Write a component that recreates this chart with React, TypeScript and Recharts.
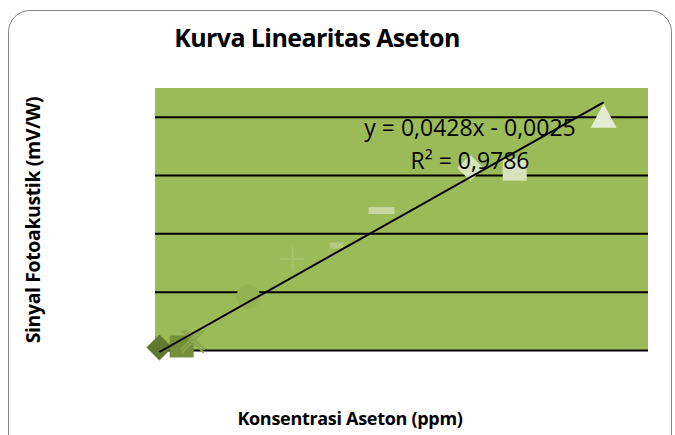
import { ScatterChart, Scatter, XAxis, YAxis, ReferenceLine, ReferenceArea } from "recharts";

// concentration (ppm) and signal (mV/W), one Excel series per point
const concentrations = [0, 0.5, 0.75, 2, 3, 4, 5, 7, 8, 10];
const signals = [0.005, 0.007, 0.015, 0.092, 0.157, 0.18, 0.24, 0.313, 0.31, 0.399];
const markers = ["diamond", "square", "x", "circle", "plus", "dashSmall", "dash", "diamond", "square", "triangle"];
const markerColors = ["#5f7a2e", "#748f3c", "#8aa64b", "#93b353", "#a6c36b", "#b3cc80", "#c6d89f", "#d6e3bc", "#d6e3bc", "#e3ebd2"];

const yTicks = [0, 0.1, 0.2, 0.3, 0.4];
const slope = 0.0428;
const intercept = -0.0025;
const trendX = [0, 10];

const trendData = trendX.map((x) => ({ x, y: slope * x + intercept }));

function markerShape(kind: string, color: string) {
  return (props: any) => {
    const { cx, cy } = props;
    if (cx == null || cy == null) return null;
    switch (kind) {
      case "diamond":
        return <polygon points={`${cx},${cy - 13} ${cx + 13},${cy} ${cx},${cy + 13} ${cx - 13},${cy}`} fill={color} />;
      case "square":
        return <rect x={cx - 12} y={cy - 11} width={24} height={22} fill={color} />;
      case "x":
        return (
          <g stroke={color} strokeWidth={2}>
            <line x1={cx - 11} y1={cy - 11} x2={cx + 11} y2={cy + 11} />
            <line x1={cx - 11} y1={cy + 11} x2={cx + 11} y2={cy - 11} />
            <line x1={cx - 8} y1={cy - 12} x2={cx + 12} y2={cy + 8} />
            <line x1={cx - 12} y1={cy + 8} x2={cx + 8} y2={cy - 12} />
          </g>
        );
      case "circle":
        return <circle cx={cx} cy={cy} r={12} fill={color} />;
      case "plus":
        return (
          <g stroke={color} strokeWidth={2}>
            <line x1={cx - 12} y1={cy} x2={cx + 12} y2={cy} />
            <line x1={cx} y1={cy - 12} x2={cx} y2={cy + 12} />
          </g>
        );
      case "dashSmall":
        return <rect x={cx - 7} y={cy - 3} width={13} height={6} fill={color} />;
      case "dash":
        return <rect x={cx - 13} y={cy - 3.5} width={26} height={7} fill={color} />;
      case "triangle":
        return <polygon points={`${cx},${cy - 14} ${cx + 13},${cy + 10} ${cx - 13},${cy + 10}`} fill={color} />;
      default:
        return null;
    }
  };
}

const font = "'Open Sans', sans-serif";

export default function App() {
  return (
    <div style={{ position: "absolute", left: 0, top: 0, width: 675, height: 435, background: "#fff", overflow: "hidden", fontFamily: font }}>
      <div style={{ position: "absolute", left: 8, top: 10, width: 662, height: 450, border: "1.5px solid #858585", borderRadius: 22 }} />
      <ScatterChart width={675} height={435} margin={{ top: 88, right: 27, bottom: 83, left: 155 }} style={{ position: "absolute", left: 0, top: 0 }}>
        <XAxis type="number" dataKey="x" domain={[-0.1, 11]} hide />
        <YAxis type="number" dataKey="y" domain={[0, 0.45]} ticks={yTicks} hide />
        <ReferenceArea x1={-0.1} x2={11} y1={0} y2={0.45} fill="#9bbb59" fillOpacity={1} stroke="none" />
        {yTicks.map((t) => (
          <ReferenceLine key={t} y={t} stroke="#000" strokeWidth={2} />
        ))}
        {concentrations.map((c, i) => (
          <Scatter
            key={i}
            data={[{ x: c, y: signals[i] }]}
            shape={markerShape(markers[i], markerColors[i])}
            isAnimationActive={false}
          />
        ))}
        <Scatter data={trendData} line={{ stroke: "#000", strokeWidth: 2 }} shape={() => null} isAnimationActive={false} />
      </ScatterChart>
      <div style={{ position: "absolute", left: 317, top: 37, transform: "translate(-50%, -50%)", whiteSpace: "nowrap", fontSize: 25, fontWeight: 700, color: "#000", letterSpacing: -0.6 }}>
        Kurva Linearitas Aseton
      </div>
      <div style={{ position: "absolute", left: 470, top: 111, transform: "translateX(-50%)", whiteSpace: "nowrap", fontSize: 23, color: "#000", lineHeight: "33px", textAlign: "center" }}>
        y = 0,0428x - 0,0025
        <br />
        R² = 0,9786
      </div>
      <div style={{ position: "absolute", left: 32, top: 220, transform: "translate(-50%, -50%) rotate(-90deg)", whiteSpace: "nowrap", fontSize: 19.5, fontWeight: 700, color: "#000", letterSpacing: -0.4 }}>
        Sinyal Fotoakustik (mV/W)
      </div>
      <div style={{ position: "absolute", left: 350, top: 418, transform: "translate(-50%, -50%)", whiteSpace: "nowrap", fontSize: 18, fontWeight: 700, color: "#000", letterSpacing: -0.3 }}>
        Konsentrasi Aseton (ppm)
      </div>
    </div>
  );
}
